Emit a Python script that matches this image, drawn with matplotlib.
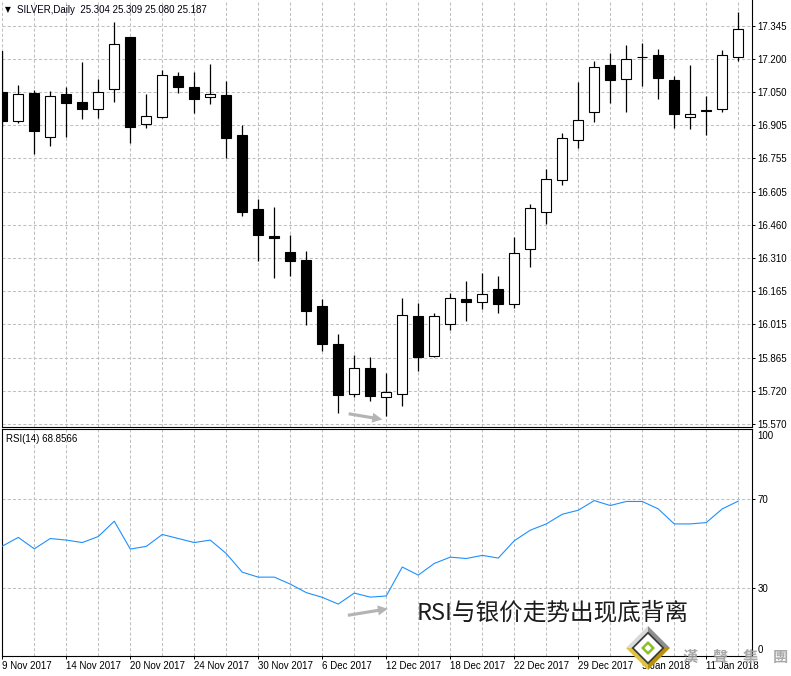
import matplotlib
matplotlib.use("Agg")
import matplotlib.pyplot as plt
from matplotlib.patches import Polygon
import numpy as np

W, H, DPI = 791, 676, 100

# Daily SILVER candles (open, high, low, close)
opens = [17.051, 16.923, 17.046, 16.852, 17.041, 17.005, 16.974, 17.063, 17.295, 16.907,
         16.941, 17.121, 17.072, 17.030, 17.036, 16.859, 16.529, 16.409, 16.338, 16.302,
         16.097, 15.928, 15.706, 15.821, 15.693, 15.706, 16.053, 15.876, 16.018, 16.127,
         16.114, 16.172, 16.106, 16.350, 16.515, 16.657, 16.836, 16.960, 17.170, 17.107,
         17.205, 17.216, 17.104, 16.941, 16.971, 16.974, 17.206]
highs = [17.234, 17.082, 17.060, 17.055, 17.073, 17.185, 17.109, 17.363, 17.298, 17.041,
         17.149, 17.140, 17.140, 17.176, 17.100, 16.902, 16.574, 16.538, 16.414, 16.342,
         16.128, 15.972, 15.879, 15.870, 15.797, 16.132, 16.111, 16.066, 16.155, 16.209,
         16.246, 16.231, 16.405, 16.552, 16.706, 16.867, 17.097, 17.189, 17.225, 17.260,
         17.269, 17.243, 17.122, 17.171, 17.033, 17.238, 17.407]
lows = [16.895, 16.913, 16.775, 16.812, 16.852, 16.929, 16.936, 17.008, 16.825, 16.892,
        16.934, 17.045, 16.959, 16.996, 16.755, 16.500, 16.298, 16.223, 16.231, 16.011,
        15.897, 15.622, 15.693, 15.675, 15.607, 15.653, 15.809, 15.871, 15.990, 16.032,
        16.083, 16.067, 16.090, 16.272, 16.464, 16.638, 16.800, 16.919, 17.003, 16.963,
        17.078, 17.020, 16.890, 16.886, 16.859, 16.963, 17.190]
closes = [16.923, 17.041, 16.878, 17.032, 17.003, 16.976, 17.050, 17.265, 16.894, 16.943,
          17.125, 17.075, 17.018, 17.041, 16.845, 16.517, 16.415, 16.402, 16.299, 16.076,
          15.929, 15.702, 15.820, 15.698, 15.714, 16.057, 15.870, 16.051, 16.132, 16.114,
          16.149, 16.108, 16.332, 16.533, 16.662, 16.846, 16.926, 17.161, 17.106, 17.197,
          17.205, 17.115, 16.954, 16.953, 16.965, 17.216, 17.330]

# RSI(14) values per bar
rsi = [48.8, 52.7, 47.6, 52.2, 51.5, 50.4, 53.1, 59.9, 47.5, 48.7,
       54.0, 52.2, 50.4, 51.5, 45.5, 37.2, 35.0, 35.0, 31.9, 28.1,
       26.0, 23.0, 27.9, 26.1, 26.6, 39.5, 35.9, 41.1, 43.9, 43.3,
       44.7, 43.5, 51.2, 55.9, 58.7, 63.0, 64.8, 69.1, 66.9, 68.7,
       68.7, 65.4, 58.7, 58.7, 59.3, 65.4, 68.8566]

price_ticks = [17.345, 17.200, 17.050, 16.905, 16.755, 16.605, 16.460,
               16.310, 16.165, 16.015, 15.865, 15.720, 15.570]
date_labels = ["9 Nov 2017", "14 Nov 2017", "20 Nov 2017", "24 Nov 2017",
               "30 Nov 2017", "6 Dec 2017", "12 Dec 2017", "18 Dec 2017",
               "22 Dec 2017", "29 Dec 2017", "5 Jan 2018", "11 Jan 2018"]
date_bars = [0, 4, 8, 12, 16, 20, 24, 28, 32, 36, 40, 44]
rsi_levels = [30, 70]

header = "SILVER,Daily  25.304 25.309 25.080 25.187"
rsi_title = "RSI(14) 68.8566"
note = "RSI与银价走势出现底背离"
brand_chars = ["漢", "聲", "集", "團"]

plt.rcParams["font.family"] = ["Liberation Sans", "DejaVu Sans"]

GRID = dict(color="#c0c0c0", lw=0.75, ls=(0, (3, 2)))
FS = 7.0

fig = plt.figure(figsize=(W / DPI, H / DPI), dpi=DPI)
fig.patch.set_facecolor("white")


def px_axes(left, top, right, bottom):
    return fig.add_axes([left / W, 1 - bottom / H, (right - left) / W, (bottom - top) / H])


n = len(opens)
idx = np.arange(n)
o = np.array(opens)
c = np.array(closes)
up = c >= o
XLIM = (-0.0375, 46.86)

# ---- price panel ----
ax = px_axes(1.7, 0.5, 752, 426.7)
ax.set_xlim(*XLIM)
ax.set_ylim(15.5594, 17.4586)
ax.vlines(idx, lows, highs, color="black", lw=0.9, zorder=3)
ax.bar(idx, np.abs(c - o), bottom=np.minimum(o, c), width=0.62,
       color=np.where(up, "white", "black"), edgecolor="black", linewidth=0.8, zorder=4)
ax.yaxis.tick_right()
ax.set_yticks(price_ticks, [f"{v:.3f}" for v in price_ticks])
ax.set_xticks(np.arange(0, n, 2))
ax.tick_params(axis="x", length=0, labelbottom=False)
ax.tick_params(axis="y", direction="out", length=2.3, width=0.7, pad=1.5,
               labelsize=FS, colors="black")
ax.grid(True, **GRID)
ax.set_axisbelow(True)
ax.spines["top"].set_visible(False)
ax.spines["left"].set_bounds(15.5594, highs[0])
for s in ax.spines.values():
    s.set_linewidth(0.8)
ax.annotate("", xy=(23.75, 15.592), xytext=(21.65, 15.617),
            arrowprops=dict(arrowstyle="simple,head_length=0.8,head_width=0.8,tail_width=0.25",
                            fc="#b4b4b4", ec="none", shrinkA=0, shrinkB=0, mutation_scale=9),
            zorder=5)

# ---- RSI panel ----
ax2 = px_axes(1.7, 429.3, 752, 656)
ax2.set_xlim(*XLIM)
ax2.set_ylim(-0.13, 100.85)
ax2.plot(idx, rsi, color="#1e90ff", lw=0.8, zorder=3)
ax2.yaxis.tick_right()
ax2.set_yticks(rsi_levels, [str(v) for v in rsi_levels])
ax2.set_xticks(date_bars, date_labels, ha="left")
ax2.set_xticks(np.arange(0, n, 2), minor=True)
ax2.tick_params(axis="x", which="minor", length=0)
ax2.tick_params(axis="x", which="major", direction="out", length=2.3, width=0.7,
                pad=1.5, labelsize=FS)
ax2.tick_params(axis="y", direction="out", length=2.3, width=0.7, pad=1.5, labelsize=FS)
ax2.grid(True, which="both", axis="x", **GRID)
ax2.grid(True, which="major", axis="y", **GRID)
ax2.set_axisbelow(True)
for s in ax2.spines.values():
    s.set_linewidth(0.8)
ytr = ax2.get_yaxis_transform()
ax2.text(1.0072, 100, "100", transform=ytr, va="top", ha="left", fontsize=FS)
ax2.text(1.0072, 2.6, "0", transform=ytr, va="center", ha="left", fontsize=FS)
ax2.annotate("", xy=(24.1, 20.9), xytext=(21.6, 18.0),
             arrowprops=dict(arrowstyle="simple,head_length=0.8,head_width=0.8,tail_width=0.25",
                             fc="#b4b4b4", ec="none", shrinkA=0, shrinkB=0, mutation_scale=9),
             zorder=5)

# ---- overlay: captions and brand mark ----
ov = fig.add_axes([0, 0, 1, 1])
ov.set_xlim(0, W)
ov.set_ylim(H, 0)
ov.axis("off")
ov.patch.set_alpha(0)
ov.set_zorder(10)

ov.text(5, 10, "▼", fontsize=5.5, va="center", ha="left", family=["DejaVu Sans"])
ov.text(17, 10, header, fontsize=FS, va="center", ha="left", color="#000010")
ov.text(6.5, 438.5, rsi_title, fontsize=FS, va="center", ha="left")
ov.text(417, 612.5, note, fontsize=17, va="center", ha="left", color="#1c1c1c",
        family=["Noto Sans CJK SC", "DejaVu Sans"])


def diamond(cx, cy, r, **kw):
    return Polygon([(cx, cy - r), (cx + r, cy), (cx, cy + r), (cx - r, cy)], closed=True, **kw)


cx, cy, R = 648, 648, 22
faces = [([(cx - R, cy), (cx, cy - R), (cx, cy)], "#d9d9d9"),
         ([(cx, cy - R), (cx + R, cy), (cx, cy)], "#8e8e8e"),
         ([(cx + R, cy), (cx, cy + R), (cx, cy)], "#b8920c"),
         ([(cx, cy + R), (cx - R, cy), (cx, cy)], "#e2c43a")]
for pts, col in faces:
    ov.add_patch(Polygon(pts, closed=True, fc=col, ec="none"))
ov.add_patch(diamond(cx, cy, 16.5, fc="#3c3c3c", ec="none"))
ov.add_patch(diamond(cx, cy, 14, fc="white", ec="none"))
ov.add_patch(diamond(cx, cy, 7, fc="#8cbf26", ec="none"))
ov.add_patch(diamond(cx, cy, 3.5, fc="white", ec="none"))
for i, ch in enumerate(brand_chars):
    ov.text(690 + 30 * i, 657, ch, fontsize=11, fontweight="bold", color="#a0a0a0",
            alpha=0.9, va="center", ha="center", family=["Noto Sans CJK TC"])

fig.savefig("out.png", dpi=DPI, facecolor="white")
